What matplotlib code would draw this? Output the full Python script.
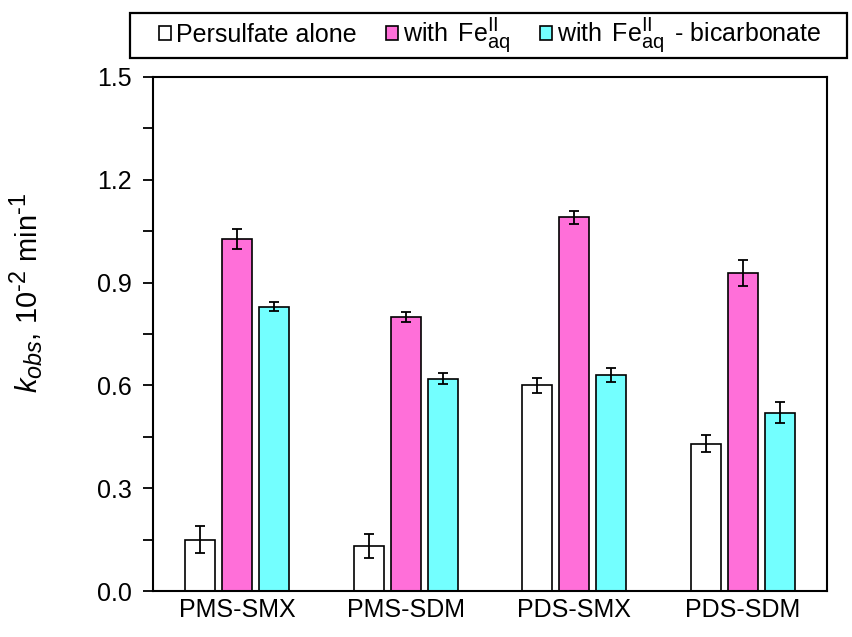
import numpy as np
import matplotlib.pyplot as plt
import matplotlib._mathtext as mathtext_internal
from matplotlib.patches import Rectangle

plt.rcParams['font.family'] = ['Liberation Sans', 'DejaVu Sans']
plt.rcParams['mathtext.fontset'] = 'custom'
plt.rcParams['mathtext.rm'] = 'Liberation Sans'
plt.rcParams['mathtext.it'] = 'Liberation Sans:italic'
# slightly larger sub/superscripts than the mathtext default
mathtext_internal.SHRINK_FACTOR = 0.8

# --- data: k_obs (10^-2 min^-1) ---
systems = ["PMS-SMX", "PMS-SDM", "PDS-SMX", "PDS-SDM"]
k_alone = [0.15, 0.13, 0.60, 0.43]
k_alone_err = [0.04, 0.035, 0.023, 0.025]
k_fe = [1.027, 0.80, 1.09, 0.928]
k_fe_err = [0.03, 0.015, 0.018, 0.037]
k_fe_bicarb = [0.83, 0.62, 0.63, 0.52]
k_fe_bicarb_err = [0.014, 0.016, 0.021, 0.031]

labels = ["Persulfate alone",
          r"with$\,$ Fe$^{\mathrm{II}}_{\mathrm{aq}}$",
          r"with$\,$ Fe$^{\mathrm{II}}_{\mathrm{aq}}\,$ - bicarbonate"]
colors = ["white", "#FF6FD9", "#73FFFF"]

fig = plt.figure(figsize=(8.52, 6.37), dpi=100)
ax = fig.add_axes([0.1796, 0.0722, 0.7911, 0.807])

x = np.arange(len(systems))
w = 0.178
off = 0.22
series = [(k_alone, k_alone_err), (k_fe, k_fe_err), (k_fe_bicarb, k_fe_bicarb_err)]
for i, (vals, errs) in enumerate(series):
    ax.bar(x + (i - 1) * off, vals, w, yerr=errs, color=colors[i],
           edgecolor="black", linewidth=1.2, label=labels[i],
           error_kw=dict(ecolor="black", elinewidth=1.3, capsize=3.5, capthick=1.3))

ax.set_xlim(-0.5, 3.5)
ax.set_ylim(0, 1.5)
ax.set_yticks(np.arange(0, 1.51, 0.3))
ax.set_yticks(np.arange(0.15, 1.5, 0.3), minor=True)
ax.yaxis.set_major_formatter(plt.FormatStrFormatter('%.1f'))
ax.set_xticks(x)
ax.set_xticklabels(systems)
ax.tick_params(axis='x', length=0, labelsize=18, pad=5)
ax.tick_params(axis='y', which='both', direction='out', length=7, width=1.3, labelsize=18, pad=8)
for s in ax.spines.values():
    s.set_linewidth(1.5)

ax.set_ylabel(r"$k_{obs}$, 10$^{\text{-}2}$ min$^{\text{-}1}$", fontsize=21)
ax.yaxis.set_label_coords(-0.16, 0.58)

# legend: plain rectangular box above the plot
fig.patches.append(Rectangle((130 / 852, 1 - 58 / 637), 717 / 852, 45 / 637,
                             transform=fig.transFigure, fill=False,
                             edgecolor='black', linewidth=1.6))
fig.legend(loc='center left', bbox_to_anchor=(159 / 852, 1 - 35.5 / 637), ncol=3,
           fontsize=18, frameon=False, borderpad=0, borderaxespad=0,
           handlelength=0.48, handleheight=0.48, handletextpad=0.22, columnspacing=1.15)

fig.savefig("out.png", dpi=100)
